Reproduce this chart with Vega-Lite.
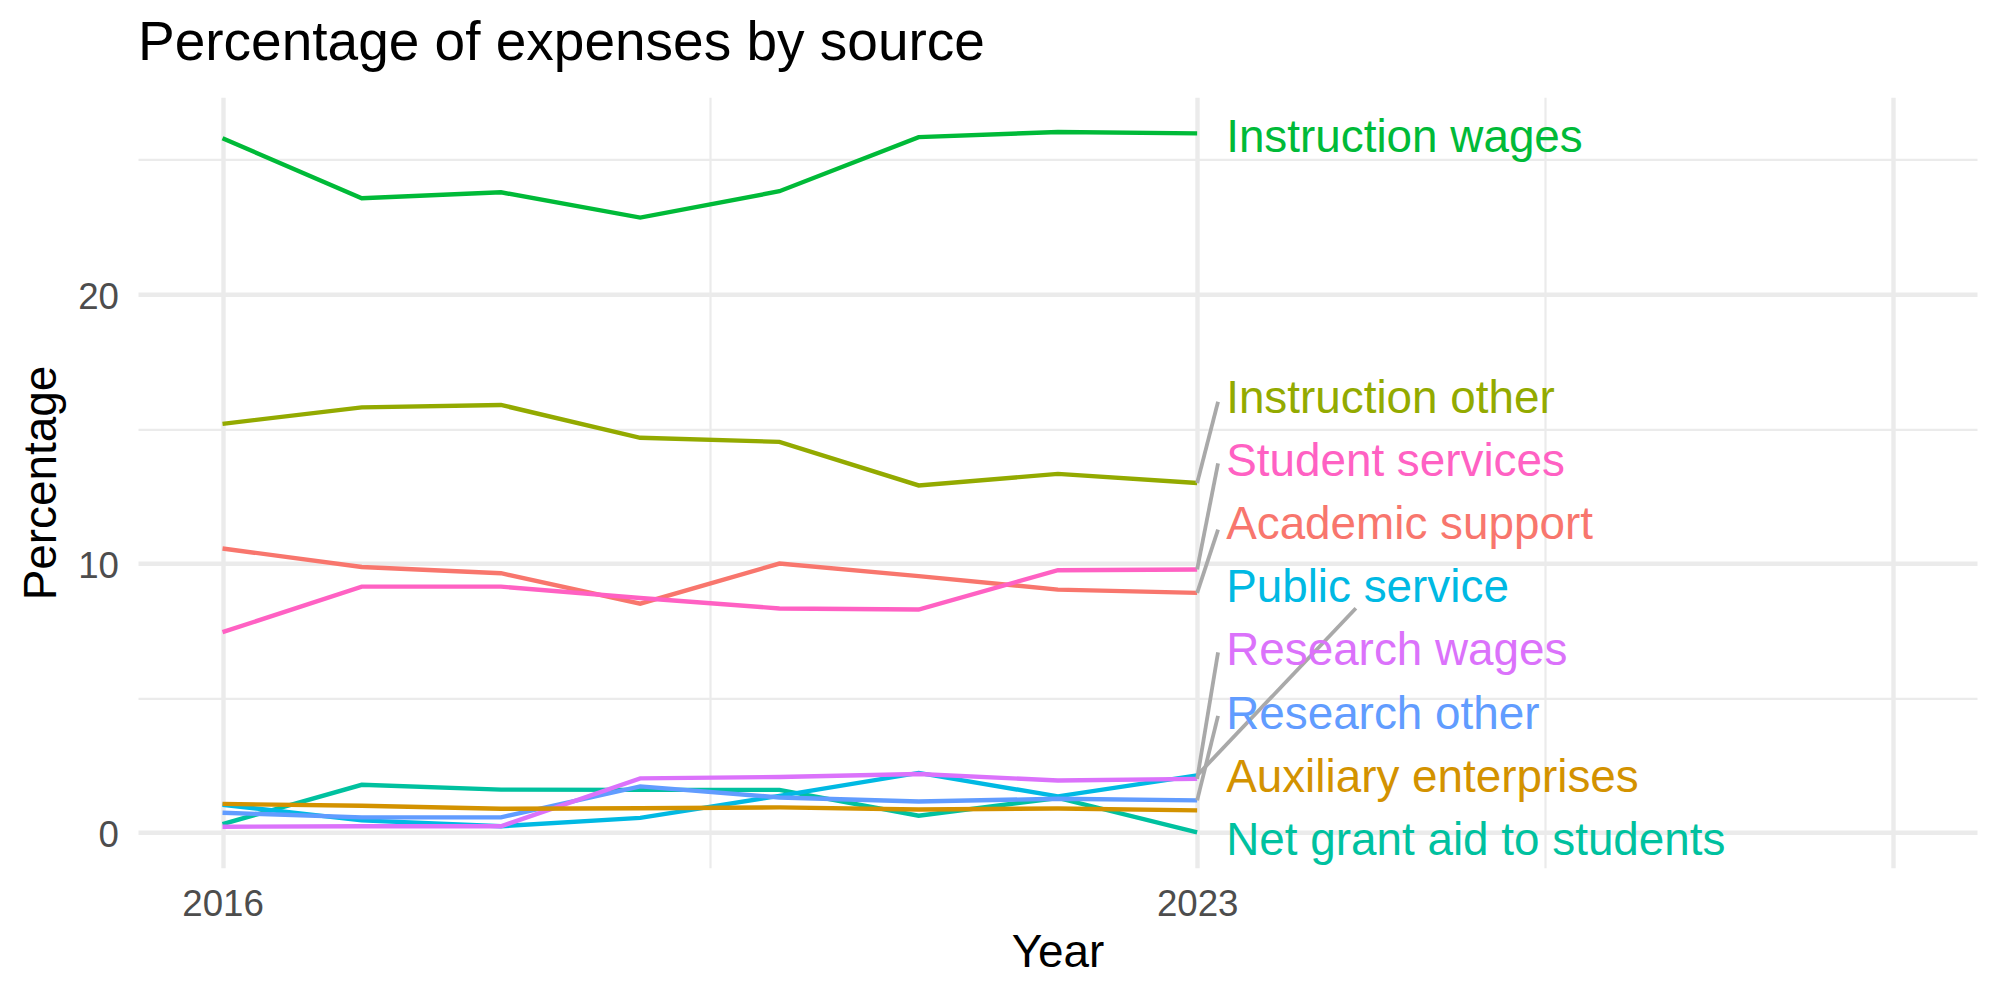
{
  "$schema": "https://vega.github.io/schema/vega-lite/v6.json",
  "autosize": "none",
  "width": 1839,
  "height": 770.4,
  "padding": {"left": 138, "top": 97.3, "right": 23, "bottom": 132.3},
  "background": "white",
  "config": {
    "view": {"stroke": null},
    "font": "Liberation Sans"
  },
  "title": {
    "text": "Percentage of expenses by source",
    "anchor": "start",
    "frame": "group",
    "baseline": "alphabetic",
    "offset": -18,
    "fontSize": 55,
    "fontWeight": "normal",
    "font": "Liberation Sans",
    "color": "black"
  },
  "datasets": {
    "main": [
      {"year": 2016, "source": "Instruction wages", "pct": 25.80},
      {"year": 2017, "source": "Instruction wages", "pct": 23.57},
      {"year": 2018, "source": "Instruction wages", "pct": 23.79},
      {"year": 2019, "source": "Instruction wages", "pct": 22.85},
      {"year": 2020, "source": "Instruction wages", "pct": 23.83},
      {"year": 2021, "source": "Instruction wages", "pct": 25.84},
      {"year": 2022, "source": "Instruction wages", "pct": 26.03},
      {"year": 2023, "source": "Instruction wages", "pct": 25.98},
      {"year": 2016, "source": "Instruction other", "pct": 15.19},
      {"year": 2017, "source": "Instruction other", "pct": 15.80},
      {"year": 2018, "source": "Instruction other", "pct": 15.89},
      {"year": 2019, "source": "Instruction other", "pct": 14.67},
      {"year": 2020, "source": "Instruction other", "pct": 14.52},
      {"year": 2021, "source": "Instruction other", "pct": 12.90},
      {"year": 2022, "source": "Instruction other", "pct": 13.33},
      {"year": 2023, "source": "Instruction other", "pct": 12.99},
      {"year": 2016, "source": "Academic support", "pct": 10.56},
      {"year": 2017, "source": "Academic support", "pct": 9.87},
      {"year": 2018, "source": "Academic support", "pct": 9.64},
      {"year": 2019, "source": "Academic support", "pct": 8.51},
      {"year": 2020, "source": "Academic support", "pct": 10.00},
      {"year": 2021, "source": "Academic support", "pct": 9.53},
      {"year": 2022, "source": "Academic support", "pct": 9.03},
      {"year": 2023, "source": "Academic support", "pct": 8.91},
      {"year": 2016, "source": "Student services", "pct": 7.45},
      {"year": 2017, "source": "Student services", "pct": 9.14},
      {"year": 2018, "source": "Student services", "pct": 9.14},
      {"year": 2019, "source": "Student services", "pct": 8.72},
      {"year": 2020, "source": "Student services", "pct": 8.33},
      {"year": 2021, "source": "Student services", "pct": 8.29},
      {"year": 2022, "source": "Student services", "pct": 9.75},
      {"year": 2023, "source": "Student services", "pct": 9.78},
      {"year": 2016, "source": "Net grant aid to students", "pct": 0.32},
      {"year": 2017, "source": "Net grant aid to students", "pct": 1.78},
      {"year": 2018, "source": "Net grant aid to students", "pct": 1.60},
      {"year": 2019, "source": "Net grant aid to students", "pct": 1.59},
      {"year": 2020, "source": "Net grant aid to students", "pct": 1.59},
      {"year": 2021, "source": "Net grant aid to students", "pct": 0.63},
      {"year": 2022, "source": "Net grant aid to students", "pct": 1.29},
      {"year": 2023, "source": "Net grant aid to students", "pct": 0.01},
      {"year": 2016, "source": "Public service", "pct": 1.04},
      {"year": 2017, "source": "Public service", "pct": 0.46},
      {"year": 2018, "source": "Public service", "pct": 0.24},
      {"year": 2019, "source": "Public service", "pct": 0.55},
      {"year": 2020, "source": "Public service", "pct": 1.37},
      {"year": 2021, "source": "Public service", "pct": 2.22},
      {"year": 2022, "source": "Public service", "pct": 1.35},
      {"year": 2023, "source": "Public service", "pct": 2.13},
      {"year": 2016, "source": "Research other", "pct": 0.74},
      {"year": 2017, "source": "Research other", "pct": 0.57},
      {"year": 2018, "source": "Research other", "pct": 0.57},
      {"year": 2019, "source": "Research other", "pct": 1.72},
      {"year": 2020, "source": "Research other", "pct": 1.31},
      {"year": 2021, "source": "Research other", "pct": 1.16},
      {"year": 2022, "source": "Research other", "pct": 1.26},
      {"year": 2023, "source": "Research other", "pct": 1.20},
      {"year": 2016, "source": "Research wages", "pct": 0.22},
      {"year": 2017, "source": "Research wages", "pct": 0.24},
      {"year": 2018, "source": "Research wages", "pct": 0.24},
      {"year": 2019, "source": "Research wages", "pct": 2.02},
      {"year": 2020, "source": "Research wages", "pct": 2.07},
      {"year": 2021, "source": "Research wages", "pct": 2.18},
      {"year": 2022, "source": "Research wages", "pct": 1.94},
      {"year": 2023, "source": "Research wages", "pct": 2.00},
      {"year": 2016, "source": "Auxiliary enterprises", "pct": 1.07},
      {"year": 2017, "source": "Auxiliary enterprises", "pct": 1.00},
      {"year": 2018, "source": "Auxiliary enterprises", "pct": 0.89},
      {"year": 2019, "source": "Auxiliary enterprises", "pct": 0.91},
      {"year": 2020, "source": "Auxiliary enterprises", "pct": 0.94},
      {"year": 2021, "source": "Auxiliary enterprises", "pct": 0.86},
      {"year": 2022, "source": "Auxiliary enterprises", "pct": 0.90},
      {"year": 2023, "source": "Auxiliary enterprises", "pct": 0.83}
    ],
    "labels": [
      {"source": "Instruction wages", "label_y": 25.98, "seg_x2": null, "seg_y2": null},
      {"source": "Instruction other", "label_y": 16.28, "seg_x2": 2023.15, "seg_y2": 16.01},
      {"source": "Student services", "label_y": 13.93, "seg_x2": 2023.15, "seg_y2": 13.72},
      {"source": "Academic support", "label_y": 11.59, "seg_x2": 2023.15, "seg_y2": 11.26},
      {"source": "Public service", "label_y": 9.24, "seg_x2": 2024.14, "seg_y2": 8.34},
      {"source": "Research wages", "label_y": 6.90, "seg_x2": 2023.15, "seg_y2": 6.70},
      {"source": "Research other", "label_y": 4.55, "seg_x2": 2023.15, "seg_y2": 4.34},
      {"source": "Auxiliary enterprises", "label_y": 2.21, "seg_x2": null, "seg_y2": null},
      {"source": "Net grant aid to students", "label_y": -0.14, "seg_x2": null, "seg_y2": null}
    ]
  },
  "layer": [
    {
      "data": {"name": "main"},
      "mark": {"type": "line", "strokeWidth": 4.4},
      "encoding": {
        "x": {
          "field": "year", "type": "quantitative", "title": "Year",
          "scale": {"domain": [2015.393, 2028.601], "nice": false, "zero": false},
          "axis": {
            "values": [2016, 2019.5, 2023, 2025.5, 2028],
            "format": "d",
            "labelExpr": "datum.value == 2016 || datum.value == 2023 ? datum.label : ''",
            "domain": false, "ticks": false, "tickSize": 0,
            "labelPadding": 19, "labelFontSize": 36.67, "labelColor": "#4D4D4D",
            "labelFont": "Liberation Sans", "labelFlush": false, "labelOverlap": false,
            "titleFont": "Liberation Sans", "titleFontSize": 45.83, "titleFontWeight": "normal",
            "titleColor": "black", "titleBaseline": "alphabetic", "titleY": 98.3, "titleX": 919.5,
            "gridColor": "#EBEBEB",
            "gridWidth": {"condition": {"test": "datum.value == 2019.5 || datum.value == 2025.5", "value": 2.2}, "value": 4.4}
          }
        },
        "y": {
          "field": "pct", "type": "quantitative", "title": "Percentage",
          "scale": {"domain": [-1.3, 27.32], "nice": false, "zero": false},
          "axis": {
            "values": [0, 5, 10, 15, 20, 25],
            "labelExpr": "datum.value % 10 == 0 ? datum.label : ''",
            "domain": false, "ticks": false, "tickSize": 0,
            "labelPadding": 19.5, "labelOffset": 3, "labelFontSize": 36.67, "labelColor": "#4D4D4D",
            "labelFont": "Liberation Sans", "labelFlush": false, "labelOverlap": false,
            "titleFont": "Liberation Sans", "titleFontSize": 45.83, "titleFontWeight": "normal",
            "titleColor": "black", "titleBaseline": "alphabetic", "titleX": -83, "titleY": 385.2, "titleAngle": 270,
            "gridColor": "#EBEBEB",
            "gridWidth": {"condition": {"test": "datum.value == 5 || datum.value == 15 || datum.value == 25", "value": 2.2}, "value": 4.4}
          }
        },
        "color": {
          "field": "source", "type": "nominal", "legend": null,
          "scale": {
            "domain": ["Academic support", "Auxiliary enterprises", "Instruction other", "Instruction wages", "Net grant aid to students", "Public service", "Research other", "Research wages", "Student services"],
            "range": ["#F8766D", "#D39200", "#93AA00", "#00BA38", "#00C19F", "#00B9E3", "#619CFF", "#DB72FB", "#FF61C3"]
          }
        }
      }
    },
    {
      "data": {"name": "main"},
      "transform": [
        {"filter": "datum.year == 2023"},
        {"lookup": "source", "from": {"data": {"name": "labels"}, "key": "source", "fields": ["seg_x2", "seg_y2"]}},
        {"filter": "isValid(datum.seg_x2)"}
      ],
      "mark": {"type": "rule", "color": "#A9A9A9", "strokeWidth": 3.8},
      "encoding": {
        "x": {"field": "year", "type": "quantitative", "title": "Year"},
        "y": {"field": "pct", "type": "quantitative", "title": "Percentage"},
        "x2": {"field": "seg_x2"},
        "y2": {"field": "seg_y2"}
      }
    },
    {
      "data": {"name": "main"},
      "transform": [
        {"filter": "datum.year == 2023"},
        {"lookup": "source", "from": {"data": {"name": "labels"}, "key": "source", "fields": ["label_y"]}}
      ],
      "mark": {"type": "text", "align": "left", "baseline": "alphabetic", "dx": 29, "dy": 18.5, "fontSize": 45.83, "font": "Liberation Sans"},
      "encoding": {
        "x": {"field": "year", "type": "quantitative", "title": "Year"},
        "y": {"field": "label_y", "type": "quantitative", "title": "Percentage"},
        "text": {"field": "source"},
        "color": {"field": "source", "type": "nominal", "legend": null}
      }
    }
  ]
}
